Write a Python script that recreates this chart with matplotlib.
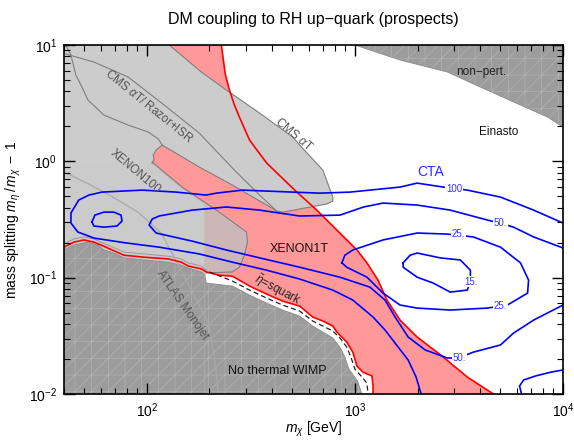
import matplotlib
matplotlib.use('Agg')
import matplotlib.pyplot as plt

plt.rcParams['font.family'] = ['Liberation Sans', 'DejaVu Sans']
plt.rcParams['mathtext.fontset'] = 'custom'
plt.rcParams['mathtext.rm'] = 'Liberation Sans'
plt.rcParams['mathtext.it'] = 'Liberation Sans:italic'
plt.rcParams['mathtext.bf'] = 'Liberation Sans:bold'
plt.rcParams['hatch.linewidth'] = 0.5
plt.rcParams['hatch.color'] = '#b2b2b2'

XMIN, XMAX = 40, 1e4
YMIN, YMAX = 0.01, 10

# ---- region boundaries (m_chi [GeV], mass splitting) ----
nonpert_m = [1000, 1648, 2780, 4008, 5785, 8440, 10000]
nonpert_d = [10, 7.43, 5.86, 4.35, 3.24, 2.40, 1.97]

nothermal_m = [40, 44.6, 52.1, 58.2, 62.2, 69.5, 77.6, 97.0, 126.7, 146.3, 158.2, 182.8, 188.8,
               193.2, 257.8, 311.9, 376.7, 449.4, 543.1, 627.1, 701.5, 783.4, 847.2, 895.4,
               935, 1031, 1057, 1080]
nothermal_d = [0.173, 0.191, 0.202, 0.191, 0.173, 0.163, 0.148, 0.142, 0.136, 0.128, 0.121, 0.112,
               0.107, 0.0899, 0.0847, 0.0709, 0.0605, 0.0527, 0.0468, 0.0384, 0.0341, 0.0303,
               0.0253, 0.0208, 0.0164, 0.0129, 0.0112, 0.01]

xe1t_up_m = [228.2, 233.3, 238.7, 249.5, 263.6, 278.6, 311.9, 376.7, 513.8, 655.7, 818.8, 1023,
             1143, 1291, 1426, 1648, 1991, 2658, 3467, 4632]
xe1t_up_d = [10, 7.43, 5.52, 4.10, 3.05, 2.40, 1.52, 0.967, 0.566, 0.381, 0.257, 0.173, 0.134,
             0.0953, 0.0642, 0.0432, 0.0309, 0.0208, 0.0140, 0.01]

xe1t_low_m = [40, 44.6, 49.9, 55.7, 60.2, 77.6, 97.0, 126.7, 146.3, 158.2, 182.8, 193.2, 223.3,
              257.8, 311.9, 376.7, 449.4, 543.1, 627.1, 701.5, 783.4, 818.8, 914.1, 977.2, 1023,
              1094, 1208, 1222, 1222]
xe1t_low_d = [0.183, 0.202, 0.211, 0.202, 0.191, 0.156, 0.150, 0.145, 0.136, 0.126, 0.119, 0.112,
              0.105, 0.103, 0.0847, 0.0723, 0.0629, 0.0570, 0.0459, 0.0424, 0.0384, 0.0341,
              0.0279, 0.0229, 0.0174, 0.0154, 0.0143, 0.0117, 0.01]
xe1t_hidden_m = [188.8, 188.8, 147.9, 106.1, 97.0, 97.0]
xe1t_hidden_d = [0.110, 0.430, 0.578, 0.948, 1.25, 10]

squark_m = [199.9, 257.8, 311.9, 376.7, 449.4, 543.1, 627.1, 701.5, 783.4, 847.2, 914.1, 956.5,
            1000, 1081, 1143, 1156]
squark_d = [0.112, 0.0935, 0.0782, 0.0668, 0.0582, 0.0516, 0.0424, 0.0384, 0.0348, 0.0303,
            0.0253, 0.0208, 0.0164, 0.0140, 0.0124, 0.01]

cms_m = [40, 128.2, 182.8, 241.3, 348.3, 502.3, 543.1, 701.5, 783.4, 783.4, 733.3, 449.4, 420.7,
         376.7, 257.8, 178.7, 118.6, 110.9, 107.2, 108.4, 106.1, 40]
cms_d = [10, 10, 5.86, 4.10, 2.60, 1.62, 1.38, 0.841, 0.493, 0.456, 0.430, 0.366, 0.374, 0.421,
         0.625, 0.893, 1.38, 1.25, 1.13, 1.047, 0.967, 0.967]

razorA_m = [40.8, 55.7, 81.3, 114.6, 178.7, 263.6, 348.3, 420.7]
razorA_d = [8.37, 7.14, 5.31, 3.30, 1.75, 0.841, 0.513, 0.374]
razorB_m = [40.8, 43.2, 45.6, 49.3, 52.1, 62.2, 81.3, 101.4, 113.4, 118.6]
razorB_d = [10, 8.20, 5.52, 4.19, 3.37, 2.50, 2.05, 1.79, 1.56, 1.38]

x100_m = [106.1, 147.9, 216.0, 301.3, 304.7, 294.6, 278.6, 257.8, 193.2, 188.8, 40, 40]
x100_d = [0.986, 0.601, 0.381, 0.247, 0.202, 0.156, 0.123, 0.112, 0.110, 0.0642, 0.0642, 1.026]

edge_m = [40, 44.6, 49.9, 55.7, 60.2, 77.6, 97.0, 126.7, 146.3, 158.2, 182.8, 193.2]
edge_d = [0.195, 0.215, 0.224, 0.215, 0.202, 0.166, 0.160, 0.153, 0.145, 0.134, 0.126, 0.116]

atlas_m = [40, 52.7, 67.3, 90.8, 117.2, 135.5, 163.6, 197.6, 211.3, 220.8]
atlas_d = [0.809, 0.638, 0.503, 0.366, 0.242, 0.150, 0.0782, 0.0407, 0.0208, 0.01]
texture_m = [188.8, 188.8]
texture_d = [0.01, 0.107]

# ---- CTA contours ----
cta100_m = [2081, 1968, 1803, 1560, 1396, 1222, 977.2, 783.4, 543.1, 376.7, 257.8, 178.7, 114.6,
            79.4, 55.7, 46.6, 43.2, 43.2, 47.1, 52.7, 60.9, 94.9, 138.4, 193.2, 216.0, 288.4,
            502.3, 677.7, 946.2, 1648, 1991, 2658, 3467, 5008, 7226, 10000]
cta100_d = [0.01, 0.0140, 0.0196, 0.0274, 0.0355, 0.0459, 0.0642, 0.0782, 0.0973, 0.116, 0.136,
            0.160, 0.183, 0.199, 0.219, 0.247, 0.295, 0.360, 0.465, 0.513, 0.544, 0.566, 0.544,
            0.513, 0.533, 0.566, 0.544, 0.533, 0.544, 0.601, 0.650, 0.601, 0.566, 0.493, 0.381,
            0.295]
cta100b_m = [6324, 6183, 6466, 7389, 8725, 10000]
cta100b_d = [0.01, 0.0117, 0.0132, 0.0143, 0.0154, 0.0161]

cta50_m = [10000, 7226, 5785, 5008, 3707, 3141, 2780, 2178, 1803, 1560, 1396, 1180, 847.2, 543.1,
           348.3, 241.3, 165.5, 110.9, 102.6, 106.1, 114.6, 165.5, 241.3, 348.3, 543.1, 847.2,
           1100, 1365, 1991, 2871, 4333, 4951, 5785, 7226, 10000]
cta50_d = [0.0582, 0.0432, 0.0334, 0.0264, 0.0229, 0.0204, 0.0204, 0.0239, 0.0309, 0.0459, 0.0642,
           0.0830, 0.101, 0.123, 0.148, 0.173, 0.206, 0.242, 0.283, 0.319, 0.339, 0.381, 0.405,
           0.381, 0.339, 0.345, 0.405, 0.438, 0.421, 0.381, 0.313, 0.295, 0.272, 0.224, 0.180]

cta25_m = [865.6, 895.4, 977.2, 1365, 1991, 2780, 3707, 5008, 6251, 6833, 6759, 5408, 4333, 2871,
           1991, 1648, 1365, 1143, 914.1, 865.6]
cta25_d = [0.134, 0.156, 0.173, 0.211, 0.242, 0.237, 0.224, 0.183, 0.134, 0.0953, 0.0737, 0.0582,
           0.0548, 0.0527, 0.0548, 0.0582, 0.0737, 0.101, 0.123, 0.134]

cta15_m = [1705, 1841, 1991, 2570, 3211, 3589, 3589, 3467, 2871, 2379, 1991, 1705, 1705]
cta15_d = [0.134, 0.156, 0.163, 0.148, 0.142, 0.116, 0.0917, 0.0782, 0.0752, 0.0899, 0.101,
           0.123, 0.134]

island_m = [54.5, 56.3, 62.2, 69.5, 75.2, 76.0, 71.9, 62.2, 55.7, 54.5]
island_d = [0.301, 0.345, 0.366, 0.366, 0.345, 0.307, 0.278, 0.272, 0.278, 0.301]

cta_labels = ['100', '50.', '25.', '15.', '25.', '50.']
cta_label_m = [3003, 5008, 3141, 3627, 5008, 3176]
cta_label_d = [0.578, 0.298, 0.237, 0.0926, 0.0567, 0.0202]

# ---- figure ----
fig = plt.figure(figsize=(5.74, 4.40), dpi=100)
ax = fig.add_axes([0.1115, 0.1045, 0.8693, 0.7932])
ax.set_xscale('log')
ax.set_yscale('log')
ax.set_xlim(XMIN, XMAX)
ax.set_ylim(YMIN, YMAX)

RED_FILL = '#ff9999'
RED = '#ff0000'
BLUE = '#0000ff'
OUT = '#7f7f7f'
DARK = '#9c9c9c'
HATCH = '#b2b2b2'

# XENON1T region
red_m = xe1t_up_m + xe1t_low_m[11:][::-1] + xe1t_hidden_m
red_d = xe1t_up_d + xe1t_low_d[11:][::-1] + xe1t_hidden_d
ax.fill(red_m, red_d, color=RED_FILL, lw=0, zorder=1)

# XENON100 (translucent)
ax.fill(x100_m, x100_d, facecolor='#bfbfbf', alpha=0.8, lw=0, zorder=2)
# CMS regions (opaque)
ax.fill(cms_m, cms_d, facecolor='#cccccc', lw=0, zorder=3)

ax.plot(cms_m[1:21], cms_d[1:21], color=OUT, lw=0.8, zorder=4)
ax.plot(x100_m[:9], x100_d[:9], color=OUT, lw=0.8, zorder=4)
ax.plot(razorA_m, razorA_d, color=OUT, lw=0.8, zorder=4)
ax.plot(razorB_m, razorB_d, color=OUT, lw=0.8, zorder=4)
ax.plot(edge_m, edge_d, color='#999999', lw=0.7, zorder=4)

# no thermal WIMP
ax.fill(nothermal_m + [nothermal_m[-1], XMIN], nothermal_d + [YMIN, YMIN],
        facecolor=DARK, edgecolor=HATCH, hatch='//+', lw=0, zorder=5)
ax.plot(nothermal_m, nothermal_d, color='#8c8c8c', lw=0.6, zorder=5)
# non-perturbative
ax.fill(nonpert_m + [XMAX], nonpert_d + [YMAX],
        facecolor=DARK, edgecolor=HATCH, hatch='//+', lw=0, zorder=5)
ax.plot(nonpert_m, nonpert_d, color='#8c8c8c', lw=0.6, zorder=5)

ax.plot(atlas_m, atlas_d, color='#a9a9a9', lw=0.9, zorder=6)
ax.plot(texture_m, texture_d, color='#a9a9a9', lw=0.6, zorder=6)

# XENON1T lines
ax.plot(xe1t_up_m, xe1t_up_d, color=RED, lw=1.2, zorder=7)
ax.plot(xe1t_low_m, xe1t_low_d, color=RED, lw=1.2, zorder=7)
ax.plot(squark_m, squark_d, color='#222222', lw=0.9, ls=(0, (4, 2.5)), zorder=7)

# CTA contours
for cm, cd in [(cta100_m, cta100_d), (cta100b_m, cta100b_d), (cta50_m, cta50_d),
               (cta25_m, cta25_d), (cta15_m, cta15_d), (island_m, island_d)]:
    ax.plot(cm, cd, color=BLUE, lw=1.2, zorder=8)

for lab, lm, ld in zip(cta_labels, cta_label_m, cta_label_d):
    ax.text(lm, ld, lab, color='#3333ff', fontsize=7, ha='center', va='center', zorder=9,
            bbox=dict(facecolor='white', edgecolor='none', pad=0.6))

# region labels
ax.text(2301, 0.809, 'CTA', color='#2b2bff', fontsize=10, ha='center', va='center', zorder=10)
ax.text(543, 0.176, 'XENON1T', color='#111111', fontsize=9, ha='center', va='center', zorder=10)
ax.text(4898, 1.79, 'Einasto', color='#111111', fontsize=8.5, ha='center', va='center', zorder=10)
ax.text(4055, 5.86, 'non\u2212pert.', color='#222222', fontsize=8.5, ha='center', va='center', zorder=10)
ax.text(425, 0.0157, 'No thermal WIMP', color='#111111', fontsize=9, ha='center', va='center', zorder=10)
ax.text(508, 1.72, r'CMS $\alpha$T', color='#555555', fontsize=8.5, ha='center', va='center',
        rotation=-40, rotation_mode='anchor', zorder=10)
ax.text(102.6, 2.99, r'CMS $\alpha$T/ Razor+ISR', color='#555555', fontsize=8.5, ha='center',
        va='center', rotation=-39, rotation_mode='anchor', zorder=10)
ax.text(87.8, 0.809, 'XENON100', color='#555555', fontsize=8.5, ha='center', va='center',
        rotation=-40, rotation_mode='anchor', zorder=10)
ax.text(147.9, 0.0581, 'ATLAS Monojet', color='#555555', fontsize=8.5, ha='center', va='center',
        rotation=-55, rotation_mode='anchor', zorder=10)
ax.text(425, 0.0782, r'$\tilde{\eta}$=squark', color='#222222', fontsize=8.5, ha='center',
        va='center', rotation=-28, rotation_mode='anchor', zorder=10)

# axes styling
ax.tick_params(which='both', direction='in', top=True, right=True)
ax.tick_params(which='major', length=8, width=1.0, labelsize=10, pad=5)
ax.tick_params(which='minor', length=4.5, width=0.8)
for s in ax.spines.values():
    s.set_linewidth(1.2)
    s.set_zorder(20)
ax.xaxis.set_zorder(20)
ax.yaxis.set_zorder(20)

ax.set_title('DM coupling to RH up\u2212quark (prospects)', fontsize=11.5, pad=15)
ax.set_xlabel(r'$m_\chi$ [GeV]', fontsize=10, labelpad=0)
ax.set_ylabel(r'mass splitting $m_\eta\,/\,m_\chi\;-\;1$', fontsize=10, labelpad=4)

fig.savefig('out.png', dpi=100)
